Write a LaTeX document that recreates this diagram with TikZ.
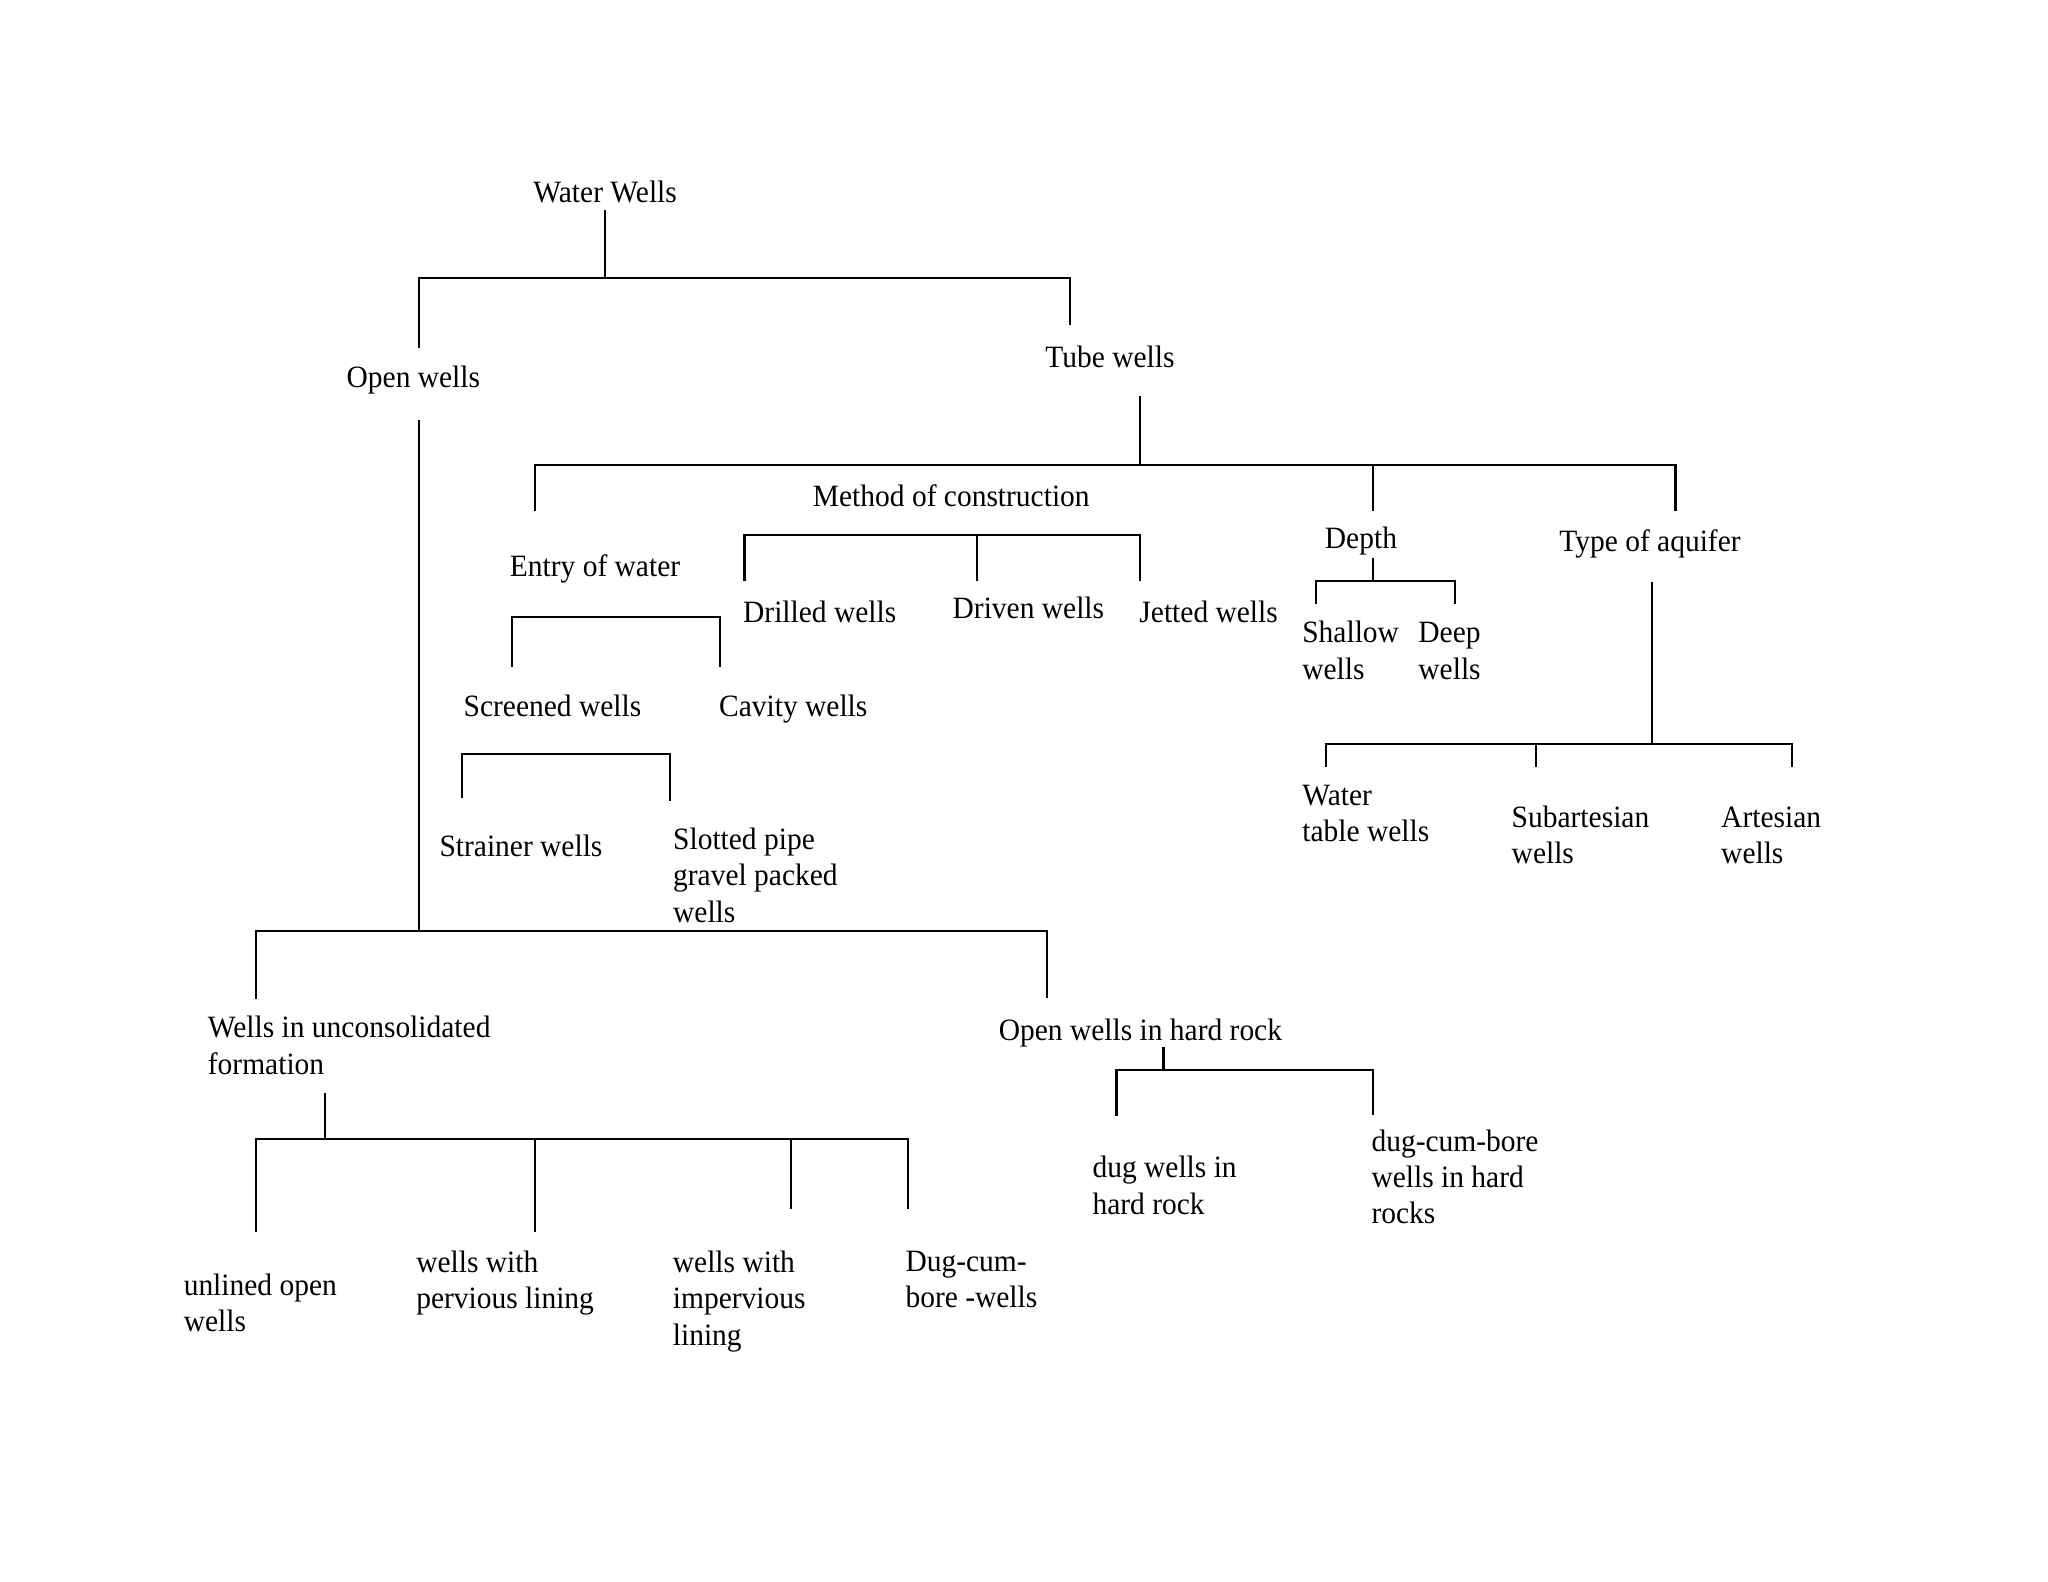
\documentclass[tikz,border=0pt]{standalone}
\usepackage{fontspec}
\setmainfont{Liberation Serif}[FakeStretch=0.95]
\begin{document}
\begin{tikzpicture}[x=0.5051pt,y=-0.5051pt,
  lbl/.style={anchor=base west,inner sep=0pt,align=left,font=\fontsize{12}{14}\selectfont},
  ln/.style={line width=0.8pt,line join=miter}]
\useasboundingbox[fill=white] (0,0) rectangle (1568,1211);
% ---- labels (multi-line labels are placed by the baseline of their last line) ----
\node[lbl] (ww) at (408,155) {Water Wells};
\node[lbl] (ow) at (265,297) {Open wells};
\node[lbl] (tw) at (800,281) {Tube wells};
\node[lbl] (ew) at (390,441.5) {Entry of water};
\node[lbl] (mc) at (622,387.5) {Method of construction};
\node[lbl] (dp) at (1014,420.3) {Depth};
\node[lbl] (ta) at (1193.5,422.4) {Type of aquifer};
\node[lbl] (dr) at (568.6,476.7) {Drilled wells};
\node[lbl] (dv) at (729,473.4) {Driven wells};
\node[lbl] (jt) at (872,476.7) {Jetted wells};
\node[lbl] (sh) at (996.7,520) {Shallow\\wells};
\node[lbl] (de) at (1085.6,520) {Deep\\wells};
\node[lbl] (sc) at (354.6,548.7) {Screened wells};
\node[lbl] (cv) at (550.2,548.7) {Cavity wells};
\node[lbl] (st) at (336.1,655.4) {Strainer wells};
\node[lbl] (sl) at (515,706) {Slotted pipe\\gravel packed\\wells};
\node[lbl] (wt) at (996.7,644.4) {Water\\table wells};
\node[lbl] (sa) at (1157,661) {Subartesian\\wells};
\node[lbl] (ar) at (1317.4,661) {Artesian\\wells};
\node[lbl] (wu) at (158.8,822.3) {Wells in unconsolidated\\formation};
\node[lbl] (oh) at (764.3,796.3) {Open wells in hard rock};
\node[lbl] (ul) at (140.3,1019.6) {unlined open\\wells};
\node[lbl] (wp) at (318.3,1001.7) {wells with\\pervious lining};
\node[lbl] (wi) at (514.8,1029.8) {wells with\\impervious\\lining};
\node[lbl] (dc) at (692.9,1001.3) {Dug-cum-\\bore -wells};
\node[lbl] (dh) at (836.1,929.5) {dug wells in\\hard rock};
\node[lbl] (db) at (1049.7,937) {dug-cum-bore\\wells in hard\\rocks};
% ---- junction coordinates ----
\coordinate (ww-s) at (463.3,160.8);   \coordinate (ww-j) at (463.3,213.1);
\coordinate (ow-t) at (320.7,213.1);   \coordinate (ow-b) at (320.7,266.7);
\coordinate (tw-t) at (819.3,213.1);   \coordinate (tw-b) at (819.3,248.8);
\coordinate (ow-s) at (320.7,321.6);   \coordinate (ow-j) at (320.7,712.6);
\coordinate (tw-s) at (873,303.2);     \coordinate (tw-j) at (873,355.8);
\coordinate (ew-t) at (409.7,355.8);   \coordinate (ew-b) at (409.7,391.2);
\coordinate (dp-t) at (1051.1,355.8);  \coordinate (dp-b) at (1051.1,391.2);
\coordinate (ta-t) at (1282.8,355.8);  \coordinate (ta-b) at (1282.8,391.2);
\coordinate (dr-t) at (570,409.6);     \coordinate (dr-b) at (570,444.9);
\coordinate (dv-t) at (748,409.6);     \coordinate (dv-b) at (748,444.9);
\coordinate (jt-t) at (873,409.6);     \coordinate (jt-b) at (873,444.9);
\coordinate (dp-s) at (1051.1,427.5);  \coordinate (dp-j) at (1051.1,444.9);
\coordinate (sh-t) at (1007.3,444.9);  \coordinate (sh-b) at (1007.3,462.7);
\coordinate (de-t) at (1114,444.9);    \coordinate (de-b) at (1114,462.7);
\coordinate (sc-t) at (392,472.7);     \coordinate (sc-b) at (392,510.4);
\coordinate (cv-t) at (551.5,472.7);   \coordinate (cv-b) at (551.5,510.4);
\coordinate (st-t) at (353.7,577.3);   \coordinate (st-b) at (353.7,611.2);
\coordinate (sl-t) at (512.8,577.3);   \coordinate (sl-b) at (512.8,613);
\coordinate (ta-s) at (1265,445.3);    \coordinate (ta-j) at (1265,569.6);
\coordinate (wt-t) at (1015.2,569.6);  \coordinate (wt-b) at (1015.2,587);
\coordinate (sa-t) at (1176,569.6);    \coordinate (sa-b) at (1176,587);
\coordinate (ar-t) at (1371.9,569.6);  \coordinate (ar-b) at (1371.9,587);
\coordinate (wu-t) at (196.2,712.6);   \coordinate (wu-b) at (196.2,764.9);
\coordinate (oh-t) at (801.6,712.6);   \coordinate (oh-b) at (801.6,764.4);
\coordinate (wu-s) at (248.9,837.1);   \coordinate (wu-j) at (248.9,872.3);
\coordinate (ul-t) at (196.2,872.3);   \coordinate (ul-b) at (196.2,943.5);
\coordinate (wp-t) at (409.3,872.3);   \coordinate (wp-b) at (409.3,943);
\coordinate (wi-t) at (605.8,872.3);   \coordinate (wi-b) at (605.8,925.9);
\coordinate (dc-t) at (695.1,872.3);   \coordinate (dc-b) at (695.1,925.9);
\coordinate (oh-s) at (890.8,801.9);   \coordinate (oh-j) at (890.8,819.2);
\coordinate (dh-t) at (854.8,819.2);   \coordinate (dh-b) at (854.8,854.5);
\coordinate (db-t) at (1051.1,819.2);  \coordinate (db-b) at (1051.1,853.7);
% ---- connectors ----
\draw[ln] (ww-s) -- (ww-j);
\draw[ln] (ow-b) -- (ow-t) -- (tw-t) -- (tw-b);
\draw[ln] (ow-s) -- (ow-j);
\draw[ln] (tw-s) -- (tw-j);
\draw[ln] (ew-b) -- (ew-t) -- (ta-t) -- (ta-b);
\draw[ln] (dp-t) -- (dp-b);
\draw[ln] (dr-b) -- (dr-t) -- (jt-t) -- (jt-b);
\draw[ln] (dv-t) -- (dv-b);
\draw[ln] (dp-s) -- (dp-j);
\draw[ln] (sh-b) -- (sh-t) -- (de-t) -- (de-b);
\draw[ln] (sc-b) -- (sc-t) -- (cv-t) -- (cv-b);
\draw[ln] (st-b) -- (st-t) -- (sl-t) -- (sl-b);
\draw[ln] (ta-s) -- (ta-j);
\draw[ln] (wt-b) -- (wt-t) -- (ar-t) -- (ar-b);
\draw[ln] (sa-t) -- (sa-b);
\draw[ln] (wu-b) -- (wu-t) -- (oh-t) -- (oh-b);
\draw[ln] (wu-s) -- (wu-j);
\draw[ln] (ul-b) -- (ul-t) -- (dc-t) -- (dc-b);
\draw[ln] (wp-t) -- (wp-b);
\draw[ln] (wi-t) -- (wi-b);
\draw[ln] (oh-s) -- (oh-j);
\draw[ln] (dh-b) -- (dh-t) -- (db-t) -- (db-b);
\end{tikzpicture}
\end{document}
